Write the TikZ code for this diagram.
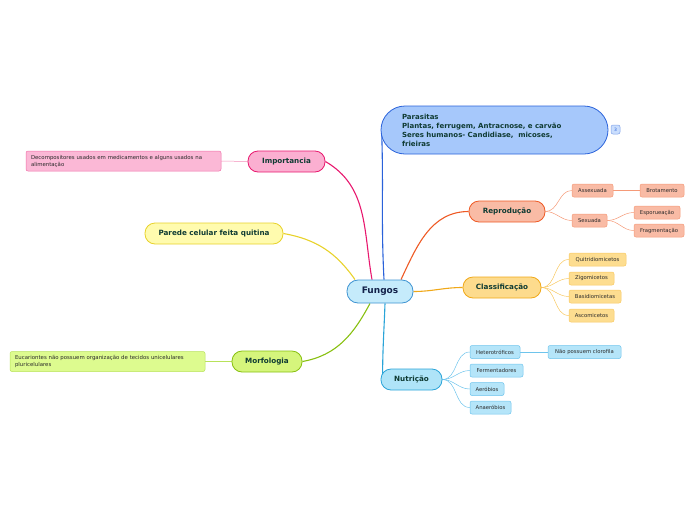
\documentclass[tikz,border=0pt]{standalone}
\usepackage{fontspec}
\setmainfont{DejaVu Sans}
\usetikzlibrary{backgrounds}

\definecolor{topictext}{HTML}{0F3B33}
\definecolor{leaftext}{HTML}{2A2A2A}
\definecolor{fungosfill}{HTML}{C5EBFB}
\definecolor{fungosdraw}{HTML}{3F94D2}
\definecolor{fungostext}{HTML}{13224A}
\definecolor{parafill}{HTML}{A6C8FB}
\definecolor{paradraw}{HTML}{2A62DA}
\definecolor{impfill}{HTML}{FBAFD1}
\definecolor{impdraw}{HTML}{E8186E}
\definecolor{implfill}{HTML}{FBB8D6}
\definecolor{impldraw}{HTML}{F070A8}
\definecolor{parfill}{HTML}{FFFBAE}
\definecolor{pardraw}{HTML}{E8D22A}
\definecolor{morfill}{HTML}{D5F57C}
\definecolor{mordraw}{HTML}{88C010}
\definecolor{morlfill}{HTML}{DDFB8F}
\definecolor{morldraw}{HTML}{B8E25A}
\definecolor{repfill}{HTML}{F9BBA5}
\definecolor{repdraw}{HTML}{EE5A25}
\definecolor{repldraw}{HTML}{F59A78}
\definecolor{clafill}{HTML}{FDDB8D}
\definecolor{cladraw}{HTML}{F0A818}
\definecolor{clalfill}{HTML}{FDDD90}
\definecolor{claldraw}{HTML}{F8C860}
\definecolor{nutfill}{HTML}{AFE4F8}
\definecolor{nutdraw}{HTML}{2AA4D8}
\definecolor{nutlfill}{HTML}{B5E5F9}
\definecolor{nutldraw}{HTML}{6EC4EC}

\tikzset{
  topic/.style={draw, line width=0.8pt, rounded corners=10pt, minimum height=21pt,
    inner sep=0pt, text=topictext, font=\fontsize{7.2}{8}\selectfont\bfseries},
  leaf/.style={draw, line width=0.5pt, rounded corners=2pt, minimum height=13pt,
    inner sep=0pt, text=leaftext, font=\fontsize{5.3}{6}\selectfont},
  note/.style={leaf, minimum width=195pt, minimum height=20pt, text width=185pt,
    align=left, font=\fontsize{5.4}{7}\selectfont},
  link/.style={line width=1.1pt},
  twig/.style={line width=0.5pt},
}

\begin{document}
\begin{tikzpicture}[x=1pt, y=-1pt]
\useasboundingbox (0,0) rectangle (696,520);

\node[topic, fill=fungosfill, draw=fungosdraw, text=fungostext, minimum width=66pt,
  minimum height=23pt, rounded corners=11pt, font=\fontsize{9}{10}\selectfont\bfseries] (fungos) at (380,291.5) {Fungos};

\node[topic, fill=parafill, draw=paradraw, minimum width=227pt, minimum height=48pt,
  rounded corners=24pt, text width=185pt, align=left, font=\fontsize{7}{9}\selectfont\bfseries] (parasitas) at (494.5,130)
  {Parasitas\\Plantas, ferrugem, Antracnose, e carvão\\Seres humanos- Candidiase,\ \ micoses,\\frieiras};
\node[leaf, fill=parafill!60, draw=paradraw!60, minimum width=9pt, minimum height=9pt,
  text=paradraw, font=\fontsize{4.5}{5}\selectfont] (badge) at (615.5,129.5) {3};

\node[topic, fill=impfill, draw=impdraw, minimum width=77pt] (importancia) at (286.5,161.5) {Importancia};
\node[note, fill=implfill, draw=impldraw] (decomp) at (123.5,161)
  {Decompositores usados em medicamentos e alguns usados na\\alimentação};

\node[topic, fill=parfill, draw=pardraw, minimum width=138pt] (parede) at (214,233.5) {Parede celular feita quitina};

\node[topic, fill=morfill, draw=mordraw, minimum width=70pt] (morfologia) at (267,361.5) {Morfologia};
\node[note, fill=morlfill, draw=morldraw] (eucar) at (107.5,361.5)
  {Eucariontes não possuem organização de tecidos unicelulares\\pluricelulares};

\node[topic, fill=repfill, draw=repdraw, minimum width=76pt] (reproducao) at (507,211.5) {Reprodução};
\node[leaf, fill=repfill, draw=repldraw, minimum width=41pt] (assexuada) at (592.5,190.5) {Assexuada};
\node[leaf, fill=repfill, draw=repldraw, minimum width=44pt] (brotamento) at (662,190.5) {Brotamento};
\node[leaf, fill=repfill, draw=repldraw, minimum width=35pt] (sexuada) at (589.5,220.5) {Sexuada};
\node[leaf, fill=repfill, draw=repldraw, minimum width=46pt] (esporu) at (657,212.5) {Esporueação};
\node[leaf, fill=repfill, draw=repldraw, minimum width=50pt] (fragment) at (659,230.5) {Fragmentação};

\node[topic, fill=clafill, draw=cladraw, minimum width=78pt] (classificacao) at (502,287.5) {Classificação};
\node[leaf, fill=clalfill, draw=claldraw, minimum width=57pt] (quitri) at (597.5,259.5) {Quitridiomicetos};
\node[leaf, fill=clalfill, draw=claldraw, minimum width=45pt] (zigo) at (591.5,278.5) {Zigomicetos};
\node[leaf, fill=clalfill, draw=claldraw, minimum width=52pt] (basidio) at (595,296.5) {Basidiomicetas};
\node[leaf, fill=clalfill, draw=claldraw, minimum width=45pt] (asco) at (591.5,315.5) {Ascomicetos};

\node[topic, fill=nutfill, draw=nutdraw, minimum width=61pt] (nutricao) at (411.5,379.5) {Nutrição};
\node[leaf, fill=nutlfill, draw=nutldraw, minimum width=50pt] (hetero) at (495,352) {Heterotróficos};
\node[leaf, fill=nutlfill, draw=nutldraw, minimum width=73pt] (clorofila) at (584.5,352) {Não possuem clorofila};
\node[leaf, fill=nutlfill, draw=nutldraw, minimum width=53pt] (ferment) at (496.5,370.5) {Fermentadores};
\node[leaf, fill=nutlfill, draw=nutldraw, minimum width=34pt] (aerob) at (487,389) {Aeróbios};
\node[leaf, fill=nutlfill, draw=nutldraw, minimum width=41pt] (anaerob) at (490.5,407.5) {Anaeróbios};

\begin{scope}[on background layer]
\draw[link, paradraw] ([xshift=4pt]fungos.north) to[out=93, in=-88] ([xshift=1pt]parasitas.west);
\draw[link, impdraw] ([xshift=-8pt]fungos.north) to[out=100, in=-30] (importancia.east);
\draw[link, pardraw] ([xshift=-25pt]fungos.north) to[out=125, in=-10] (parede.east);
\draw[link, mordraw] ([xshift=-10pt]fungos.south) to[out=-118, in=10] (morfologia.east);
\draw[link, repdraw] ([xshift=21pt]fungos.north) to[out=65, in=180] (reproducao.west);
\draw[link, cladraw] (fungos.east) to[out=0, in=180] (classificacao.west);
\draw[link, nutdraw] ([xshift=5pt]fungos.south) to[out=-92, in=90] ([xshift=2pt, yshift=2pt]nutricao.west);

\draw[twig, impldraw!80] (importancia.west) -- (decomp.east);
\draw[twig, morldraw] (morfologia.west) -- (eucar.east);
\foreach \n in {assexuada, sexuada}
  \draw[twig, repldraw] (reproducao.east) to[out=0, in=180] (\n.west);
\draw[twig, repldraw] (assexuada.east) -- (brotamento.west);
\foreach \n in {esporu, fragment}
  \draw[twig, repldraw] (sexuada.east) to[out=0, in=180] (\n.west);
\foreach \n in {quitri, zigo, basidio, asco}
  \draw[twig, claldraw] (classificacao.east) to[out=0, in=180] (\n.west);
\foreach \n in {hetero, ferment, aerob, anaerob}
  \draw[twig, nutldraw] (nutricao.east) to[out=0, in=180] (\n.west);
\draw[twig, nutldraw] (hetero.east) -- (clorofila.west);
\end{scope}
\end{tikzpicture}
\end{document}
